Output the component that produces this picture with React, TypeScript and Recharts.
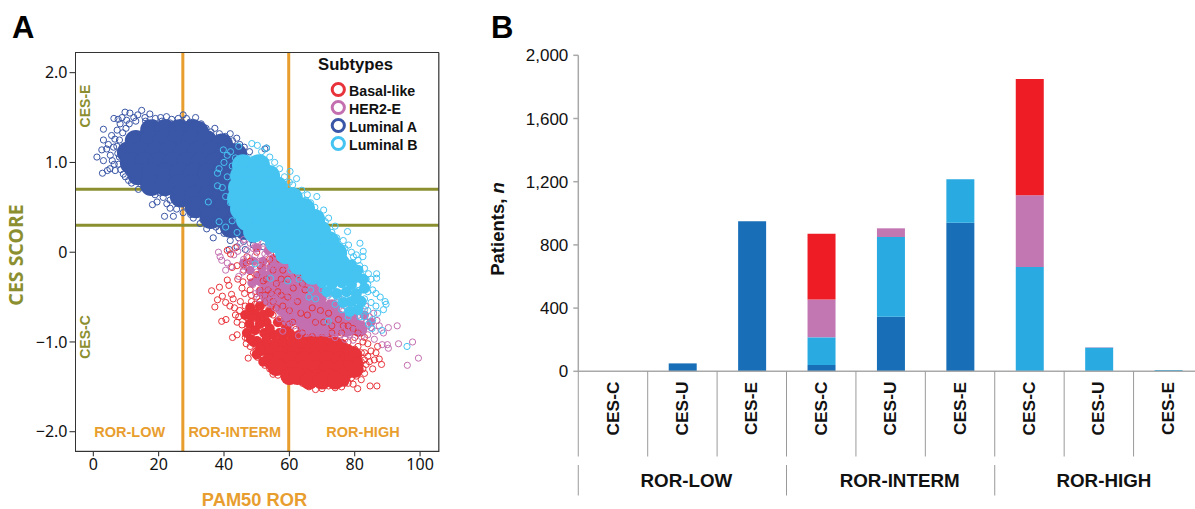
import React from "react";
import { ScatterChart, Scatter, XAxis, YAxis, ReferenceLine, BarChart, Bar } from "recharts";

type P = [number, number];

const RED = "#E8333A", PINK = "#C46FB0", NAVY = "#3A56A6", SKY = "#45C4F2";
const ORANGE = "#E89E2E", OLIVE = "#8B8F2F";
const ARIAL = "'Liberation Sans', Arial, sans-serif";
const MYRIAD = "'Noto Sans', 'Open Sans', sans-serif";

// Overplotted, visually solid parts of each cloud
const lumACore: P[] = [
  [17.7,1.36],[22,1.36],[26.2,1.36],[30.5,1.36],[32,1.34],
  [13,1.24],[17.4,1.24],[21.6,1.24],[25.9,1.24],[30.2,1.24],[34.5,1.24],[39.4,1.2],
  [10.6,1.11],[14.9,1.11],[19.2,1.11],[23.5,1.11],[27.8,1.11],[32,1.11],[36.3,1.11],[40.6,1.11],[43.7,1.09],
  [11.5,.99],[15.8,.99],[20.1,.99],[24.4,.99],[28.7,.99],[33,.99],[37.3,.99],[41.6,.99],[45,.99],
  [13.7,.87],[18,.87],[22.3,.87],[26.6,.87],[30.9,.87],[35.2,.87],[39.5,.87],[43,.87],
  [17.7,.75],[22,.75],[26.2,.75],[30.5,.75],[34.8,.75],[39,.75],
  [26.8,.62],[31.1,.62],[35.4,.62],[39.7,.62],
  [31.4,.5],[35.7,.5],[40,.5],
  [36,.38],[40.3,.38],[44.3,.38],
  [42.1,.28],[46.4,.26],
];
const lumBCore: P[] = [
  [45.8,.97],[50.7,.97],
  [45.2,.85],[49.5,.85],[53.8,.85],
  [44.6,.72],[48.9,.72],[53.2,.72],[56.2,.72],
  [44.3,.6],[48.6,.6],[52.9,.6],[57.1,.6],[60.8,.6],
  [45.2,.48],[49.5,.48],[53.8,.48],[58.1,.48],[62.4,.48],[64.5,.48],
  [47,.36],[52.2,.36],[55.6,.36],[59.9,.36],[64.2,.36],[67.6,.36],
  [49.2,.23],[53.5,.23],[57.8,.23],[62,.23],[66.3,.23],[69.4,.23],
  [55.9,.11],[60.2,.11],[64.5,.11],[68.8,.11],[72.1,.11],
  [59,-.01],[63.3,-.01],[67.6,-.01],[71.8,-.01],[74.3,-.01],
  [63,-.13],[67.2,-.13],[71.5,-.13],[75.2,-.13],
  [67,-.24],[70.5,-.24],[74.6,-.24],[77.5,-.24],
];
const lumBLoose: P[] = [
  [70,-.34],[73,-.36],[76,-.34],[79,-.36],[71.5,-.44],[74.5,-.46],[77.5,-.44],[80.5,-.46],[79,-.55],[82,-.55],[76.5,-.56],[81,-.64],[78.5,-.66],[83,-.4],[82.5,-.3],[80.5,-.28],[79,-.14],[81,-.2],
];
const her2Core: P[] = [
  [55.6,-.18],[59.3,-.18],[61.5,-.2],
  [51.6,-.29],[55.6,-.29],[59.3,-.29],[63.3,-.29],
  [54,-.4],[57.8,-.4],[61.4,-.4],[65.1,-.4],[68,-.4],
  [54,-.51],[57.8,-.51],[61.4,-.51],[65.1,-.51],[68.8,-.51],
  [58,-.62],[62,-.62],[65.7,-.62],[69.4,-.62],[73,-.62],
  [60,-.74],[63.5,-.74],[67.6,-.74],[71.2,-.74],[74.9,-.74],[78.6,-.74],
  [65,-.85],[68,-.85],[71,-.85],[74,-.85],[77.7,-.85],[81.3,-.85],
];
const her2Loose: P[] = [
  [49,-.1],[52,-.1],[55,-.07],[58,-.07],[48,-.2],[51.6,-.18],[46,-.12],[50,.05],[53.5,.02],[56,.06],[48.5,-.34],[51,-.44],[83,-.7],[85,-.78],
];
const basalCore: P[] = [
  [54.7,-1.1],[58.4,-1.1],[62,-1.1],[65.7,-1.1],[69.4,-1.1],[73,-1.1],[76,-1.12],[65,-.98],[70,-1],[74,-1.04],
  [57.1,-1.2],[60.8,-1.2],[64.5,-1.2],[68.2,-1.2],[71.8,-1.2],[75.5,-1.2],[78,-1.2],[79.5,-1.15],
  [60.8,-1.3],[64.5,-1.3],[68.2,-1.3],[71.8,-1.3],[75.5,-1.3],[78.6,-1.3],[56,-1.28],[80,-1.3],
  [65.1,-1.4],[68.8,-1.4],[72.4,-1.4],[76,-1.4],[60,-1.38],[62.5,-1.38],[66,-1.43],[70,-1.43],[74,-1.43],
];
const basalLoose: P[] = [
  [48,-.62],[51,-.6],[54,-.67],[50.4,-.72],[47.8,-.8],[53,-.78],[56.5,-.78],[59,-.84],[49.5,-.87],[52.3,-.9],[55,-.92],[58,-.95],[61,-.94],
  [50,-.99],[52.5,-1.02],[55.5,-1.02],[59,-1.02],[62.5,-1.01],[51.5,-1.1],[53.5,-1.18],[49.5,-.68],[56,-.58],
  [51,-.8],[54,-.85],[57,-.9],[60,-.9],[63,-.92],[48.5,-.72],[52,-.7],[49,-1],[51,-1.08],[53,-.97],[56,-1],[58,-1],[60.5,-1],[46.5,-.7],[47,-.9],[48.2,-.97],[50,-1.14],[52,-1.22],[54,-1.25],[64,-1],[67,-.97],[72,-.98],[76,-1.02],[78,-1.08],[81,-1.22],
];

// Individually visible markers
const lumAPoints: P[] = [
  [1.1,1.06],[3.1,1.37],[3.1,1.25],[2.6,1.14],[2.8,.88],[4.3,.91],[5.1,.93],[3.1,1.02],[4.1,1.15],[5.6,1.3],[6.3,1.49],[7.6,1.48],
  [9.7,1.56],[11.2,1.55],[14.8,1.58],[17.3,1.54],[22.4,1.51],[27.5,1.53],[31.3,1.5],[29.6,1.45],[33,1.43],[37.2,1.38],[41.9,1.32],[43.9,1.27],
  [53,1.16],[52.5,1.15],[18.1,.53],[21.8,.4],[24.5,.4],[23.5,.49],[25.5,.48],[18.9,.64],[21.4,.61],[23.5,.58],[13.8,.7],[11.7,.77],[9.2,.87],[6.7,.91],
  [36.7,.16],[34.7,.26],[32.7,.32],[44,.06],[40,.21],[41.9,.13],[4.6,1.2],[5.2,1.08],[5.8,1.02],[6.2,1.17],[6.6,1.26],[7.3,1.36],[8.2,1.43],[8.8,1.5],[10.2,1.47],
  [12.4,1.5],[13.6,1.53],[15.8,1.5],[19,1.49],[20.6,1.5],[24,1.48],[26,1.49],[28.5,1.49],[31,1.44],[34.5,1.38],[36,1.34],[38.6,1.32],[40.4,1.29],[42.6,1.24],
  [44.8,1.2],[46.2,1.17],[47.8,1.12],[7.8,.98],[8.4,.92],[9.8,.84],[10.8,.8],[12.2,.84],[14.5,.76],[15.6,.72],[16.8,.68],[19.5,.56],[20.5,.66],[22.5,.54],[26.5,.55],
  [27.5,.44],[28.4,.51],[29.8,.42],[30.6,.38],[31.6,.44],[33.5,.36],[35.8,.31],[37.5,.28],[38.5,.24],[40.8,.27],[43,.2],[44.5,.16],[46,.12],[47.4,.24],[48.5,.14],[50,.2],
  [41.6,.03],[46.5,.03],[49,.08],[52,.06],[36,.36],[39,.34],[42,.3],[9,1.12],[7.5,1.1],[6.4,.98],[12,.92],
  [8,1.25],[9,1.33],[10,1.38],[11,1.43],[13,1.46],[16,1.46],[18.5,1.44],[21,1.46],[23.5,1.44],[27,1.45],[35,1.3],[39,1.28],[7.2,1.18],[8,1.06],[9.5,.96],[10.8,.9],[13,.8],[15,.82],[17,.76],[19.5,.72],[22,.66],[25,.63],[27.5,.58],[30,.5],[32,.5],[34,.4],
];
const basalPoints: P[] = [
  [36.2,-.43],[37.2,-.61],[38.6,-.39],[39.3,-.77],[40.6,-.75],[42.6,-.95],[44,-.92],[47.4,-1.18],[38,-.53],[39.5,-.49],[40.5,-.56],[41,-.31],[41.5,-.37],[41.8,-.6],[42.3,-.47],[42.8,-.52],[43.2,-.62],[43.5,-.7],[44,-.78],[44.5,-.72],[44.8,-.65],[45,-.55],[45.5,-.81],[45.5,-.4],[44.2,-.3],[45.8,-.33],[46.3,-.46],[46.5,-.6],[47,-.73],[47.3,-.84],[47.2,-.96],[46.5,-.95],
  [48,-.42],[48.4,-.55],[48.6,-.66],[49,-.8],[48.7,-.9],[49.5,-1.02],[49.8,-1.1],[50.2,-1.17],[50.5,-.98],[41,.02],[42,-.02],[43.5,.05],[42.5,-.17],[47,-.05],[50,-.25],[52,-.32],[53,-.12],[55,-.2],[57,-.08],[50,0],
  [51,-1.12],[52,-1.2],[52.5,-1.26],[54,-1.3],[55,-1.36],[56.5,-1.37],[58.5,-1.4],[60,-1.44],[62,-1.42],[64,-1.46],[66,-1.5],[68,-1.53],[70,-1.52],[72,-1.49],[74,-1.51],[76,-1.5],[78,-1.46],
  [79,-1.3],[80,-1.22],[80.5,-1.38],[81,-1.33],[82,-1.22],[82.5,-1.3],[83,-1.12],[83.5,-1.25],[84,-1.16],[85,-1.1],[85.5,-1.3],[86,-1.2],[86.5,-1.12],[87,-1.05],[87.5,-1.19],[88.2,-1.25],[80.9,-1.52],[84.7,-1.49],[86.8,-1.49],[78,-1],[80,-.95],[81,-1.05],[83,-.95],[84,-1.02],[76,-.9],[73,-.9],[70,-.95],[75,-1],[78,-1.12],[65,-.95],
  [51,-.55],[52,-.62],[53,-.7],[54,-.64],[55,-.7],[56,-.62],[57,-.75],[58,-.8],[59,-.88],[60,-.8],[61,-.78],[62,-.86],[63,-.94],[64,-.9],[66,-.98],[67,-.94],[68,-.98],[71,-1.04],[72,-1],[73,-1.05],[74,-1],[76,-1.08],[77,-1.04],[79,-1.12],[80,-1.16],[78,-1.24],[79,-1.4],[77.5,-1.4],
  [48,-.72],[46.8,-1.02],[48,-1.05],[49,-1.12],[50,-1.05],[51.5,-1.02],[52,-1.1],[53,-1.15],[54,-1.18],[55,-1.25],[56,-1.2],[57,-1.28],[58,-1.3],[59,-1.34],[60,-1.36],[61,-1.38],[63,-1.4],[65,-1.42],[53,-1.05],[54.5,-1.08],[50.5,-.75],[49.5,-.58],[48.4,-.48],[52.5,-.48],[54.5,-.46],[56.5,-.44],[57.5,-.3],[59,-.02],[46,-.2],[48,-.1],
  [49,-.62],[50,-.5],[51,-.42],[52.5,-.56],[53.5,-.42],[55,-.55],[56,-.35],[57.5,-.48],[58,-.6],[59.5,-.5],[60,-.65],[61.2,-.4],[62.5,-.55],[63.5,-.68],[64.8,-.42],[65.5,-.7],[67,-.62],[68,-.78],[69.5,-.65],[70.5,-.78],[72,-.68],[73,-.82],[75,-.75],[76.5,-.82],[78,-.82],[79.5,-.85],[81,-.9],[82.5,-1],[80,-1.08],[82,-1.12],[58,-.2],[59.5,-.3],[61,-.12],[62.5,-.25],[64,-.35],[66,-.2],[54,-.08],[56,-.02],[48,-.28],[46.8,-.12],[44,-.15],[53,-.3],[51,-.15],
  [81,-1.15],[81.5,-1.25],[83,-1.2],[84.5,-1.22],[83,-1.35],[82,-1.42],[79.5,-1.47],[77,-1.46],[75,-1.47],[71,-1.47],[67,-1.48],[63,-1.42],[59,-1.38],
];
const her2Points: P[] = [
  [97.7,-1],[93.4,-1.02],[99.5,-1.18],[96.1,-1.26],[90.3,-.84],[93,-.82],[90,-1.03],[90.3,-1.07],[88.4,-1.03],[86,-.97],[62.8,-.93],[38.3,0],[38.8,-.05],[39.3,-.09],[40.5,-.2],[44.2,.01],
  [43,-.03],[45,.1],[46,-.08],[47,.02],[48,.1],[48.6,-.14],[49.5,-.04],[50.5,.05],[51.5,-.1],[52.5,-.02],[53.5,.06],[54.5,-.14],[50,-.22],[51,-.3],[52.3,-.2],[53.5,-.28],[54.8,-.36],[55.8,-.24],[56.2,-.12],[57.5,-.04],
  [47.5,-.2],[45.8,-.22],[44.5,-.27],[48.8,-.36],[49.7,-.46],[50.7,-.52],[52,-.4],[53,-.5],[54,-.58],[55,-.46],[55.5,-.62],[56.5,-.54],[57.3,-.66],[58.5,-.7],[59.5,-.76],[60.5,-.7],[61.5,-.82],[63.5,-.78],[64.5,-.86],[66,-.9],
  [67.5,-.86],[69,-.9],[70.5,-.86],[72.5,-.92],[74,-.95],[75.5,-.92],[77,-.97],[78.5,-.92],[80,-.87],[81.5,-.82],[82.5,-.88],[83.5,-.78],[84.5,-.72],[85.8,-.68],[86.8,-.76],[87.5,-.82],[88.8,-.9],[84,-.92],[82,-.94],[79.5,-.98],
  [77,-.6],[78.5,-.65],[80,-.7],[81,-.6],[82.5,-.7],[83.3,-.6],[85,-.84],[86.3,-.88],[71,-.44],[73,-.52],[75,-.5],[59,-.16],[60.5,-.08],[62,-.14],[64,-.18],[65,-.28],[67,-.3],[61,-.3],[73.5,-.6],[69,-.72],[64,-.62],[57,-.74],[60,-.58],[55,-.16],[58,-.88],[61,-.52],
  [41,-.12],[42.2,-.16],[46,-.15],[56.2,.06],[58.8,.02],[61,.03],
  [51,-.1],[53,-.18],[55,-.28],[57,-.36],[58.5,-.45],[60,-.36],[63,-.36],[65,-.4],[67,-.48],[69,-.52],[71,-.56],[75,-.62],[77,-.7],[79,-.74],[80.5,-.78],[82,-.76],[84,-.82],[65,-.78],[68,-.82],[71,-.9],[76.5,-.88],[79,-.86],[54,-.36],[52,-.5],[56,-.5],[47.5,-.06],[49,.04],[52,.1],[54,.02],[48,.18],[46,.14],[50,.12],[53,-.06],
];
const lumBPoints: P[] = [
  [39.8,1.14],[41,1.08],[38.5,.93],[38,.88],[38,.74],[35.2,.56],[40,1],[42,1.12],[43.5,1.05],[44.5,1.18],[42.5,.96],[41,.84],[39.5,.72],[40.5,.62],[42,.55],[38.5,.34],[40.5,.28],[42.5,.35],[44,.22],[46,.3],
  [48.5,1.21],[50.2,1.19],[53,1.16],[51.5,1.12],[54,1.06],[55.5,1],[57,.93],[60.2,.9],[58.5,.84],[62.2,.82],[61,.75],[63.8,.69],[62.5,.62],[65.5,.64],[68.4,.62],[66.5,.55],[67.8,.5],[70.5,.47],[69,.4],[72,.38],[70.5,.3],[74,.29],[73,.22],[77.8,.23],[76.5,.13],[75,.06],[78.1,.08],[81.6,.1],[82.6,.01],[79.6,-.05],[81,-.09],[82.5,-.05],
  [86.7,-.24],[86.7,-.29],[85,-.3],[89.3,-.55],[88.8,-.64],[87.8,-.5],[85.3,-.85],[88.3,-.87],[81.6,-.72],[84,-.65],[96,-1.05],[71.9,-.77],[49.5,-.13],[54.2,-.29],[80.5,-.2],[82,-.25],[83.5,-.3],[84.2,-.24],[81,-.36],[82.5,-.42],[84,-.44],[85.5,-.42],[86.5,-.46],[83,-.52],[85,-.56],[86.5,-.6],[87,-.68],[80,-.5],[78.5,-.48],[81,-.6],[79,-.62],[77,-.54],[74.5,-.5],[76,-.46],[85.5,-.75],[84.2,-.8],[83,-.72],[89.6,-.58],[72,-.48],[70,-.42],[66.5,-.42],[63,-.3],[60.5,-.2],[62,-.02],[59,.1],[56,.11],[53.5,.16],[51,.28],[49.5,.35],[47.5,.45],[44.5,.42],[43.5,.62],[44,.78],[45,.92],[46.2,1],[48,1.04],[59.5,-.32],[57,-.06],
  [60,.78],[65,.58],[67,.44],[71,.34],[74.5,.16],[77,.04],[79,0],[80.5,-.03],[81.5,-.15],[83,-.18],[84,-.36],[83,-.64],[78,-.72],[76,-.64],[74,-.58],[68,-.52],[66,-.5],
];

const vLines = [27.4, 59.8];
const hLines = [0.7, 0.3];
const xTicksA = [0, 20, 40, 60, 80, 100];
const yTicksA = [-2, -1, 0, 1, 2];
const yTickLabelsA: Record<string, string> = { "2": "2.0", "1": "1.0", "0": "0", "-1": "\u22121.0", "-2": "\u22122.0" };
const rorBands = [{ t: "ROR-LOW", x: 129.7 }, { t: "ROR-INTERM", x: 234.7 }, { t: "ROR-HIGH", x: 363 }];
const legendItems = [{ t: "Basal-like", c: RED }, { t: "HER2-E", c: PINK }, { t: "Luminal A", c: NAVY }, { t: "Luminal B", c: SKY }];

// Panel B
const categories = ["CES-C", "CES-U", "CES-E", "CES-C", "CES-U", "CES-E", "CES-C", "CES-U", "CES-E"];
const lumA = [0, 50, 950, 40, 345, 940, 0, 0, 0];
const lumB = [0, 0, 0, 175, 505, 275, 660, 150, 8];
const her2 = [0, 0, 0, 240, 55, 0, 455, 2, 0];
const basal = [0, 0, 0, 415, 0, 0, 735, 0, 0];
const groups = ["ROR-LOW", "ROR-INTERM", "ROR-HIGH"];
const groupLabelShift = [4, 9, 5];
const yTicksB = [0, 400, 800, 1200, 1600, 2000];
const barData = categories.map((c, i) => ({ c, lumA: lumA[i], lumB: lumB[i], her2: her2[i], basal: basal[i] }));

const toXY = (a: P[]) => a.map(([x, y]) => ({ x, y }));
const ring = (color: string) => (p: any) => <circle cx={p.cx} cy={p.cy} r={3.1} fill="none" stroke={color} strokeWidth={1} />;
const disc = (color: string, r: number) => (p: any) => <circle cx={p.cx} cy={p.cy} r={r} fill={color} stroke="none" />;

const BAND = 69.45;
const CatTick = (p: any) => {
  const { x, index, payload } = p;
  const left = x - BAND / 2;
  const gi = Math.floor(index / 3);
  return (
    <g>
      <line x1={left} x2={left} y1={371} y2={456.5} stroke="#9a9a9a" strokeWidth={1} />
      <text transform={`translate(${x + 5.5},408.5) rotate(-90)`} textAnchor="middle" fontFamily={ARIAL} fontWeight="bold" fontSize={17.3} fill="#111">{payload.value}</text>
      {index % 3 === 0 && <line x1={left} x2={left} y1={465} y2={495.5} stroke="#9a9a9a" strokeWidth={1} />}
      {index % 3 === 1 && <text x={x + groupLabelShift[gi]} y={487} textAnchor="middle" fontFamily={ARIAL} fontWeight="bold" fontSize={18.8} fill="#111">{groups[gi]}</text>}
    </g>
  );
};

export default function App() {
  return (
    <div style={{ position: "absolute", left: 0, top: 0, width: 1195, height: 509, overflow: "hidden", background: "#fff" }}>
      <div style={{ position: "absolute", left: 0, top: 0 }}>
        <ScatterChart width={460} height={509} margin={{ top: 52.3, right: 21.3, bottom: 27.7, left: 0 }}>
          <XAxis type="number" dataKey="x" domain={[-5.45, 105.7]} ticks={xTicksA} allowDataOverflow height={30} tickSize={5}
            tick={{ fill: "#111", fontSize: 16, fontFamily: MYRIAD }} stroke="#222" tickMargin={2} />
          <YAxis type="number" dataKey="y" domain={[-2.218, 2.227]} ticks={yTicksA} allowDataOverflow width={75.5} tickSize={6}
            tick={{ fill: "#111", fontSize: 16, fontFamily: MYRIAD }} stroke="#222" tickMargin={2}
            tickFormatter={(v: number) => yTickLabelsA[String(v)]} />
          <Scatter data={toXY(lumACore)} shape={disc(NAVY, 11)} isAnimationActive={false} />
          <Scatter data={toXY(lumAPoints)} shape={ring(NAVY)} isAnimationActive={false} />
          <Scatter data={toXY(basalCore)} shape={disc(RED, 9)} isAnimationActive={false} />
          <Scatter data={toXY(basalLoose)} shape={disc(RED, 5)} isAnimationActive={false} />
          <Scatter data={toXY(her2Core)} shape={disc(PINK, 8.5)} isAnimationActive={false} />
          <Scatter data={toXY(her2Loose)} shape={disc(PINK, 4.5)} isAnimationActive={false} />
          <Scatter data={toXY(basalPoints)} shape={ring(RED)} isAnimationActive={false} />
          <Scatter data={toXY(her2Points)} shape={ring(PINK)} isAnimationActive={false} />
          <Scatter data={toXY(lumBCore)} shape={disc(SKY, 11)} isAnimationActive={false} />
          <Scatter data={toXY(lumBLoose)} shape={disc(SKY, 5.5)} isAnimationActive={false} />
          <Scatter data={toXY(lumBPoints)} shape={ring(SKY)} isAnimationActive={false} />
          {vLines.map((x) => <ReferenceLine key={x} x={x} stroke={ORANGE} strokeWidth={3} />)}
          {hLines.map((y) => <ReferenceLine key={y} y={y} stroke={OLIVE} strokeWidth={3} />)}
        </ScatterChart>
      </div>

      <div style={{ position: "absolute", left: 480, top: 0 }}>
        <BarChart width={723} height={509} data={barData} margin={{ top: 55.3, right: 0, bottom: 37.7, left: 0 }}>
          <XAxis dataKey="c" interval={0} height={100} tickLine={false} tick={<CatTick />} stroke="#a9a9a9" strokeWidth={1.5} />
          <YAxis domain={[0, 2000]} ticks={yTicksB} width={98.3} tickSize={5} stroke="#a9a9a9" strokeWidth={1.5}
            tick={{ fill: "#111", fontSize: 17, fontFamily: ARIAL }} tickMargin={5}
            tickFormatter={(v: number) => v.toLocaleString("en-US")} />
          <Bar dataKey="lumA" stackId="s" fill="#186FB8" barSize={28} isAnimationActive={false} />
          <Bar dataKey="lumB" stackId="s" fill="#29ABE2" barSize={28} isAnimationActive={false} />
          <Bar dataKey="her2" stackId="s" fill="#C277B2" barSize={28} isAnimationActive={false} />
          <Bar dataKey="basal" stackId="s" fill="#EE1C25" barSize={28} isAnimationActive={false} />
        </BarChart>
      </div>

      <svg width={1195} height={509} style={{ position: "absolute", left: 0, top: 0, pointerEvents: "none" }}>
        <rect x={75.5} y={52.5} width={363.2} height={399} fill="none" stroke="#333" strokeWidth={1} />
        <line x1={439.5} x2={439.5} y1={53} y2={452} stroke="#aaa" strokeWidth={1} />
        <text x={12} y={38} fontFamily={ARIAL} fontWeight="bold" fontSize={31} fill="#000">A</text>
        <text x={491} y={38} fontFamily={ARIAL} fontWeight="bold" fontSize={31} fill="#000">B</text>
        <text transform="translate(23,255) rotate(-90)" textAnchor="middle" fontFamily={MYRIAD} fontWeight="bold" fontSize={19.5} fill={OLIVE}>CES SCORE</text>
        <text x={254.5} y={506} textAnchor="middle" fontFamily={ARIAL} fontWeight="bold" fontSize={18.3} fill={ORANGE}>PAM50 ROR</text>
        <text transform="translate(90,106) rotate(-90)" textAnchor="middle" fontFamily={ARIAL} fontWeight="bold" fontSize={14} fill={OLIVE}>CES-E</text>
        <text transform="translate(90,337) rotate(-90)" textAnchor="middle" fontFamily={ARIAL} fontWeight="bold" fontSize={14} fill={OLIVE}>CES-C</text>
        {rorBands.map((b) => (
          <text key={b.t} x={b.x} y={437} textAnchor="middle" fontFamily={ARIAL} fontWeight="bold" fontSize={14.5} fill={ORANGE}>{b.t}</text>
        ))}
        <text x={318} y={70} fontFamily={ARIAL} fontWeight="bold" fontSize={16.7} fill="#111">Subtypes</text>
        {legendItems.map((l, i) => (
          <g key={l.t}>
            <circle cx={338.3} cy={89.5 + i * 18} r={6.1} fill="none" stroke={l.c} strokeWidth={3} />
            <text x={349} y={96 + i * 18} fontFamily={ARIAL} fontWeight="bold" fontSize={14.2} fill="#111">{l.t}</text>
          </g>
        ))}
        <text transform="translate(504,229) rotate(-90)" textAnchor="middle" fontFamily={ARIAL} fontWeight="bold" fontSize={18.5} fill="#111">
          Patients, <tspan fontStyle="italic">n</tspan>
        </text>
      </svg>
    </div>
  );
}
